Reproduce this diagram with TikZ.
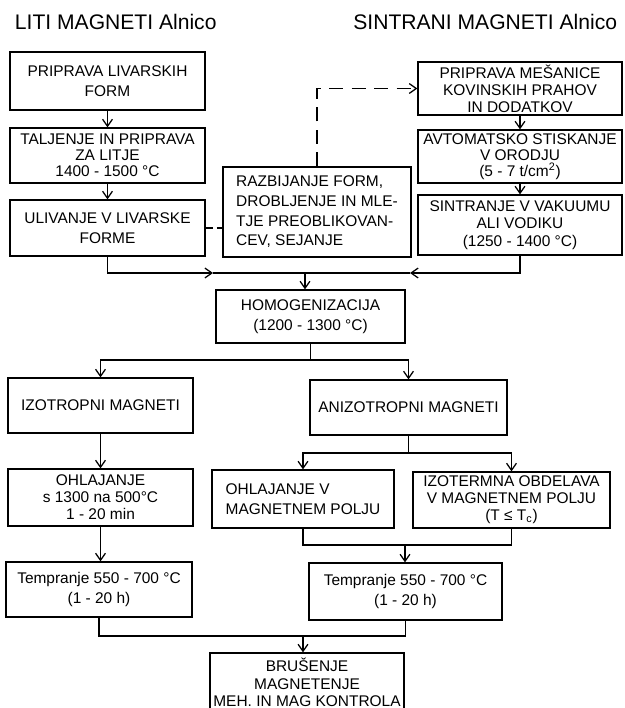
\documentclass[tikz,border=0pt]{standalone}
\usepackage{fontspec}
\setmainfont{Liberation Sans}
\usepackage{tikz}
\usetikzlibrary{arrows.meta, positioning}

\begin{document}
\begin{tikzpicture}[
    box/.style={rectangle, draw, line width=0.9pt, inner sep=2pt, align=center, font=\fontsize{11}{14}\selectfont},
    lbox/.style={box, align=left},
    arrow/.style={-{Straight Barb[length=5pt,width=7pt]}, line width=0.9pt},
    conn/.style={line width=0.9pt},
    darrow/.style={arrow, dash pattern=on 10pt off 6pt},
    title/.style={font=\fontsize{15}{18}\selectfont}
]
\useasboundingbox (0,0) rectangle (15.625,-17.7);

% Titles
\node[title, anchor=west] (tl) at (0.25,-0.55) {LITI MAGNETI Alnico};
\node[title, anchor=east] (tr) at (15.55,-0.55) {SINTRANI MAGNETI Alnico};

% Cast magnets
\node[box, minimum width=4.875cm, minimum height=1.45cm] (forms) at (2.6875,-2.025) {PRIPRAVA LIVARSKIH\\FORM};
\node[box, minimum width=4.875cm, minimum height=1.375cm, font=\fontsize{11}{11.5}\selectfont] (melt) at (2.6875,-3.8875) {TALJENJE IN PRIPRAVA\\ZA LITJE\\1400 - 1500 °C};
\node[box, minimum width=4.875cm, minimum height=1.4cm] (pour) at (2.6875,-5.7) {ULIVANJE V LIVARSKE\\FORME};

% Recycling
\node[lbox, minimum width=4.7cm, minimum height=2.25cm] (crush) at (7.925,-5.3) {RAZBIJANJE FORM,\\DROBLJENJE IN MLE-\\TJE PREOBLIKOVAN-\\CEV, SEJANJE};

% Sintered magnets
\node[box, minimum width=5.1cm, minimum height=1.325cm, font=\fontsize{11}{12}\selectfont] (mix) at (13.0,-2.2125) {PRIPRAVA MEŠANICE\\KOVINSKIH PRAHOV\\IN DODATKOV};
\node[box, minimum width=5.1cm, minimum height=1.325cm, font=\fontsize{11}{11.5}\selectfont] (press) at (13.0,-3.9125) {AVTOMATSKO STISKANJE\\V ORODJU\\(5 - 7 t/cm\textsuperscript{2})};
\node[box, minimum width=5.1cm, minimum height=1.5cm, font=\fontsize{11}{12.5}\selectfont] (sinter) at (13.0,-5.625) {SINTRANJE V VAKUUMU\\ALI VODIKU\\(1250 - 1400 °C)};

% Common steps
\node[box, minimum width=4.725cm, minimum height=1.325cm] (homog) at (7.7625,-7.9125) {HOMOGENIZACIJA\\(1200 - 1300 °C)};
\node[box, minimum width=4.625cm, minimum height=1.375cm] (iso) at (2.5125,-10.1375) {IZOTROPNI MAGNETI};
\node[box, minimum width=4.925cm, minimum height=1.375cm] (aniso) at (10.2125,-10.1875) {ANIZOTROPNI MAGNETI};
\node[box, minimum width=4.625cm, minimum height=1.425cm, font=\fontsize{11}{12}\selectfont] (cool) at (2.5125,-12.4375) {OHLAJANJE\\s 1300 na 500°C\\1 - 20 min};
\node[lbox, minimum width=4.55cm, minimum height=1.45cm] (coolfield) at (7.575,-12.475) {OHLAJANJE V\\MAGNETNEM POLJU};
\node[box, minimum width=4.925cm, minimum height=1.4cm, font=\fontsize{11}{12}\selectfont] (isotherm) at (12.7875,-12.5) {IZOTERMNA OBDELAVA\\V MAGNETNEM POLJU\\(T ≤ T\textsubscript{c})};
\node[box, minimum width=4.65cm, minimum height=1.375cm] (temperL) at (2.475,-14.7375) {Tempranje 550 - 700 °C\\(1 - 20 h)};
\node[box, minimum width=4.825cm, minimum height=1.425cm] (temperR) at (10.1375,-14.7875) {Tempranje 550 - 700 °C\\(1 - 20 h)};
\node[box, minimum width=4.85cm, minimum height=1.475cm, font=\fontsize{11}{12.5}\selectfont] (grind) at (7.675,-17.0625) {BRUŠENJE\\MAGNETENJE\\MEH. IN MAG KONTROLA};

% Junctions
\coordinate (inL) at (5.325,-6.825);
\coordinate (inR) at (10.25,-6.825);
\coordinate (jA) at (7.625,-6.825);
\coordinate (jH) at (7.7625,-9.0);
\coordinate (jN) at (10.2125,-11.325);
\coordinate (jO) at (10.125,-13.625);
\coordinate (jT) at (7.575,-15.9);

% Arrows
\draw[arrow] (forms) -- (melt);
\draw[arrow] (melt) -- (pour);
\draw[arrow] (mix) -- (press);
\draw[arrow] (press) -- (sinter);
\draw[conn, dash pattern=on 5pt off 3pt] (pour.east) -- (pour.east -| crush.west);
\draw[darrow] (crush.north) |- (mix.west);
\draw[arrow] (pour.south) |- (inL);
\draw[conn] (inL) -- (inR);
\draw[arrow] (sinter.south) |- (inR);
\draw[arrow] (jA) -- (jA |- homog.north);
\draw[conn] (homog.south) -- (jH);
\draw[arrow] (jH) -| (iso);
\draw[arrow] (jH) -| (aniso);
\draw[arrow] (iso) -- (cool);
\draw[conn] (aniso.south) -- (jN);
\draw[arrow] (jN) -| (coolfield);
\draw[arrow] (jN) -| (isotherm);
\draw[arrow] (cool) -- (cool |- temperL.north);
\draw[conn] (coolfield.south) |- (jO);
\draw[conn] (isotherm.south) |- (jO);
\draw[arrow] (jO) -- (jO |- temperR.north);
\draw[conn] (temperL.south) |- (jT);
\draw[conn] (temperR.south) |- (jT);
\draw[arrow] (jT) -- (jT |- grind.north);

\end{tikzpicture}
\end{document}
